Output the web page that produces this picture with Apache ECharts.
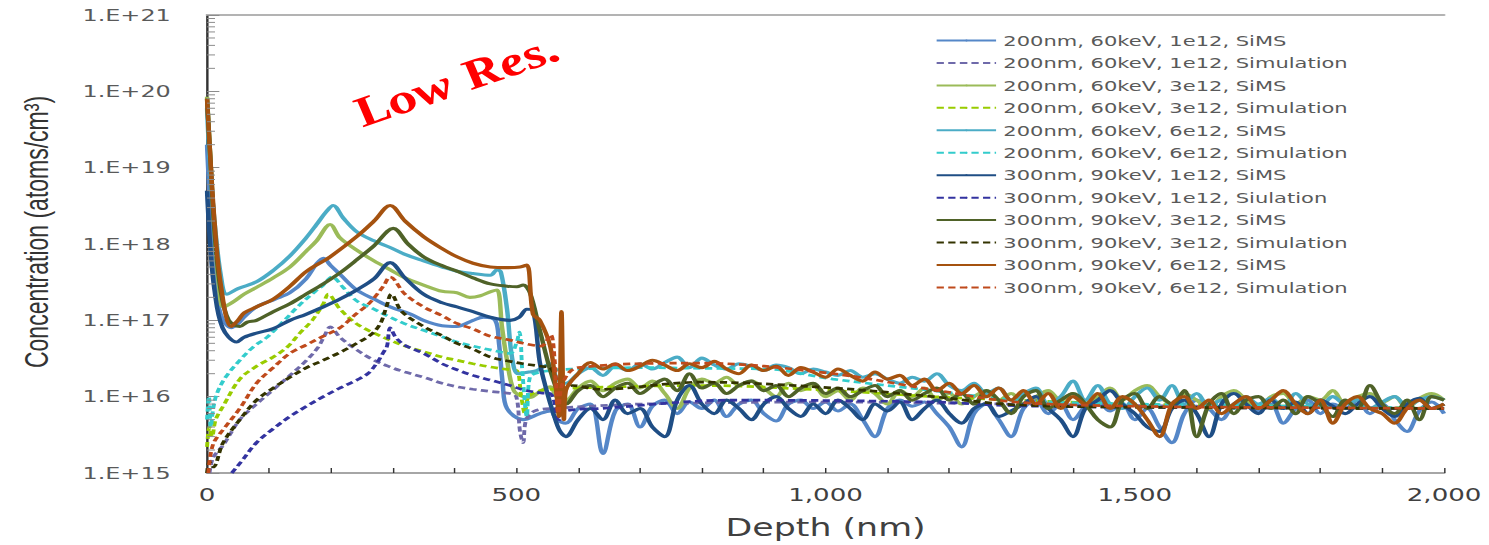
<!DOCTYPE html>
<html>
<head>
<meta charset="utf-8">
<script src="https://cdn.jsdelivr.net/npm/echarts@6.0.0/dist/echarts.min.js"></script>
<style>
  html, body { margin: 0; padding: 0; background: #fff; overflow: hidden; }
  /* the reference picture is stretched sideways, so the chart is drawn narrow and stretched back */
  #chart { width: 1027px; height: 545px; transform: scaleX(1.4499); transform-origin: 0 0; }
</style>
</head>
<body>
<div id="chart"></div>
<script>
// depth (nm) / concentration (atoms/cm3)
// near-surface + peak part of each profile: [depth, value]
const sims200_1e12 = [[0, 2e19], [5, 3e18], [12, 4e17], [22, 1.2e17], [39, 8e16], [50, 9e16], [60, 1.1e17], [80, 1.5e17], [110, 1.9e17], [134, 2.3e17], [160, 3.5e17], [177, 5.5e17], [188, 6.5e17], [200, 5.2e17], [215, 4e17], [242, 2.5e17], [270, 1.9e17], [296, 1.5e17], [330, 1.2e17], [350, 1e17], [380, 8.5e16], [404, 8.3e16], [430, 1e17], [447, 1.1e17], [466, 1e17], [472, 5e16], [478, 1.5e16], [485, 7e15], [511, 5e15], [538, 6e15], [555, 6.5e15], [565, 5e15]];
const sims200_3e12 = [[0, 8.5e19], [5, 1.5e19], [12, 1.5e18], [20, 2.5e17], [26, 1.5e17], [40, 1.7e17], [60, 2.2e17], [80, 2.7e17], [107, 3.6e17], [134, 5e17], [160, 8e17], [177, 1.1e18], [199, 1.8e18], [215, 1.2e18], [242, 8.3e17], [270, 6e17], [296, 4.6e17], [320, 3.6e17], [350, 2.9e17], [380, 2.4e17], [404, 2.3e17], [425, 2e17], [442, 2.1e17], [460, 2.4e17], [469, 2.5e17], [477, 8e16], [485, 3e16], [496, 1.2e16], [511, 1e16], [522, 9.8e15], [540, 1.2e16], [555, 1.35e16], [565, 1e16]];
const sims200_6e12 = [[0, 6e19], [5, 1e19], [12, 2e18], [22, 4e17], [32, 2.2e17], [50, 2.6e17], [80, 3.2e17], [107, 4.5e17], [134, 7e17], [160, 1.2e18], [177, 1.8e18], [192, 2.6e18], [204, 3.2e18], [220, 2.2e18], [242, 1.45e18], [270, 1.1e18], [296, 9e17], [320, 7.3e17], [350, 6e17], [380, 5e17], [404, 4.4e17], [430, 4.1e17], [458, 3.9e17], [469, 4.6e17], [475, 4.3e17], [485, 1.4e17], [493, 3.3e16], [503, 2e16], [520, 2.1e16], [533, 2.2e16], [555, 2.7e16], [566, 1.7e16]];
const sims300_1e12 = [[0, 5e18], [5, 1e18], [12, 2.5e17], [25, 8e16], [48, 5.2e16], [60, 6e16], [80, 6.8e16], [107, 7.8e16], [134, 1e17], [160, 1.2e17], [188, 1.5e17], [215, 1.9e17], [242, 2.5e17], [270, 3.5e17], [296, 5.7e17], [320, 3.6e17], [350, 2.2e17], [380, 1.7e17], [404, 1.5e17], [430, 1.3e17], [458, 1.1e17], [490, 1e17], [505, 1.1e17], [517, 1.4e17], [527, 1.35e17], [538, 2.8e16], [549, 1.2e16], [560, 6e15], [570, 3.6e15]];
const sims300_3e12 = [[0, 8e19], [5, 1.5e19], [12, 1.5e18], [22, 2.5e17], [35, 1e17], [53, 8.3e16], [65, 9.5e16], [80, 1e17], [107, 1.3e17], [134, 1.65e17], [160, 2.2e17], [188, 3e17], [215, 4.2e17], [242, 6.2e17], [270, 9.5e17], [301, 1.6e18], [325, 1e18], [350, 6.8e17], [380, 5.2e17], [404, 4.4e17], [430, 3.6e17], [458, 3e17], [485, 2.8e17], [501, 2.75e17], [511, 2.9e17], [522, 2.3e17], [538, 7.4e16], [555, 2.2e16], [570, 1e16]];
const sims300_6e12 = [[0, 8e19], [5, 1.5e19], [12, 2e18], [22, 3e17], [39, 8.3e16], [50, 1e17], [60, 1.25e17], [80, 1.5e17], [107, 1.9e17], [134, 2.8e17], [161, 4.4e17], [199, 6.8e17], [242, 1.25e18], [270, 2e18], [296, 3.2e18], [320, 2e18], [350, 1.25e18], [380, 8.7e17], [404, 6.8e17], [430, 5.6e17], [458, 5e17], [485, 4.9e17], [506, 5e17], [517, 5.3e17], [527, 1.2e17], [538, 1e17], [555, 4.5e16], [564, 1.3e16], [569, 5.5e15], [573, 1.3e17], [577, 5e15]];

// noisy SIMS floor beyond the interface, values in units of 1e15
const tailDepth = [580,600,620,640,660,680,700,720,740,760,780,800,820,840,860,880,900,920,940,960,980,1000,1020,1040,1060,1080,1100,1120,1140,1160,1180,1200,1220,1240,1260,1280,1300,1320,1340,1360,1380,1400,1420,1440,1460,1480,1500,1520,1540,1560,1580,1600,1620,1640,1660,1680,1700,1720,1740,1760,1780,1800,1820,1840,1860,1880,1900,1920,1940,1960,1980,2000];
const tail200_1e12 = [4.5,7,8,1.8,6.5,8,4,7.5,9,6, 8.5,7,9,5.5,8,9,6,4.8,8,9, 7,8.5,6.5,8,5,3,7,9,7.5,8.5, 6,4,2.2,6,8,5,3,7,9,6, 8,5,7.5,9,6.5,8,5,7,4,2.5, 6,9,7,5,8,9.5,6.5,8,4.5,7, 9,6,8,7,9,6,8,5,3.5,6.5, 8.5,6];
const tail200_3e12 = [9,13,16,12,15,17,13,16,11,7, 13,17,15,18,14,16,13,10,15,12, 14,10,12,9,13,11,8,12,10,13, 9,11,8,10,12,9,11,8,10,12, 9,11,8,10,13,9,12,14,10,8, 11,9,7,10,12,9,7,10,11,8, 10,9,12,8,10,11,8.5,10,7,9.5, 11,9];
const tail200_6e12 = [15,20,24,19,25,22,27,23,28,33, 24,32,26,23,27,25,22,26,24,20, 23,21,19,22,18,20,17,15,18,16, 20,14,12,15,11,13,9,11,13,8, 10,16,9,14,8,7,10,13,9,14, 8,11,7.5,9,7,10,8,9.5,7,11, 8,7.5,10,8,9,7,8.5,10,7.5,9, 10,9];
const tail300_1e12 = [3,5,7,5,9,6,7,4,3,9, 14,8,6,9,7,5,8,10,7,5.5, 8,6,9,7,5,8,6.5,8.5,5,7, 9,6,4.5,7,8,5.5,6.5,8,10,7, 5,3,7,9,12,8,6,4,3.5,7, 9,6,3,8,11,8,6,9,7,8.5, 6,9,7.5,6,8,10,7,5.5,8,9.5, 7,8];
const tail300_3e12 = [8,12,14,10,13,15,11,14,17,12, 20,13,15,11,14,16,12,14,10,13, 15,11,13,10,12,14,10,12,9,11, 13,9,11,8,12,9,6,10,12,7, 9,11,8,5,4,9,11,7,10,8, 12,3,8,11,6,9,10,7,9,6, 10,8,5.5,9,7,14,8,6,9,5, 10,9];
const tail300_6e12 = [12,20,28,23,27,22,25,30,26,22, 27,24,29,23,20,26,22,25,19,24, 21,18,23,19,16,21,17,19,14,17, 12,15,11,14,10,13,9,12,8,11, 7,10,8,11,7,10,8,5,3,8, 10,7,9,6,8,10,7,9,12,8, 6,9,4.5,8,10,7,6,4.5,7,9, 7,8];

// simulated profiles: [depth, value]
const sim200_1e12 = [[4, 1e15], [10, 1.6e15], [26, 2.3e15], [53, 5e15], [80, 8e15], [107, 1.23e16], [134, 1.9e16], [161, 3e16], [180, 4.5e16], [190, 6.3e16], [199, 8.2e16], [215, 6e16], [242, 4.1e16], [270, 3e16], [296, 2.45e16], [320, 2.1e16], [350, 1.8e16], [380, 1.5e16], [404, 1.35e16], [430, 1.25e16], [458, 1.17e16], [490, 1.1e16], [500, 1e16], [506, 3.5e15], [511, 2.5e15], [516, 5e15], [530, 6.5e15], [560, 7e15], [700, 8e15], [1000, 8.5e15], [1300, 8e15], [1600, 7.5e15], [2000, 7e15]];
const sim200_3e12 = [[0, 2.2e15], [4, 4e15], [8, 3e15], [14, 5e15], [26, 7.5e15], [53, 1.7e16], [80, 2.5e16], [107, 3.3e16], [130, 4.5e16], [150, 6.8e16], [170, 1e17], [188, 1.65e17], [196, 2.2e17], [215, 1.4e17], [242, 9e16], [270, 6.8e16], [296, 5.5e16], [320, 4.6e16], [350, 3.9e16], [380, 3.3e16], [404, 3e16], [430, 2.7e16], [458, 2.45e16], [490, 2.25e16], [501, 2.2e16], [508, 1e16], [514, 6e15], [520, 1e16], [540, 1.2e16], [600, 1.3e16], [800, 1.4e16], [1012, 1.2e16], [1174, 1e16], [1310, 9e15], [1500, 8e15], [1750, 7.5e15], [2000, 7e15]];
const sim200_6e12 = [[0, 5e15], [3, 1e16], [6, 4e15], [10, 7e15], [16, 1.1e16], [30, 1.8e16], [53, 3e16], [75, 4.5e16], [97, 6e16], [125, 1e17], [150, 1.6e17], [175, 2.4e17], [188, 2.9e17], [202, 3.7e17], [220, 2.7e17], [242, 1.8e17], [270, 1.4e17], [296, 1.1e17], [320, 9e16], [350, 7.4e16], [380, 6.1e16], [404, 5.2e16], [430, 4.6e16], [458, 4.1e16], [490, 3.7e16], [500, 5e16], [505, 7e16], [510, 2e16], [517, 5.5e15], [522, 1.8e16], [555, 2.2e16], [600, 2.3e16], [700, 2.4e16], [800, 2.35e16], [905, 2.3e16], [1012, 1.7e16], [1174, 1.2e16], [1310, 9e15], [1500, 8e15], [1750, 7.5e15], [2000, 7e15]];
const sim300_1e12 = [[40, 1e15], [55, 1.4e15], [80, 2.5e15], [107, 3.8e15], [134, 5.5e15], [161, 7.5e15], [188, 1e16], [215, 1.3e16], [242, 1.65e16], [260, 2e16], [275, 2.8e16], [285, 3.8e16], [291, 4.6e16], [296, 8e16], [305, 6e16], [320, 4.7e16], [350, 3.7e16], [380, 2.7e16], [404, 2.25e16], [430, 1.9e16], [458, 1.65e16], [490, 1.4e16], [511, 1.23e16], [540, 1.12e16], [555, 1.1e16], [570, 5e15], [580, 6.5e15], [635, 7e15], [850, 9e15], [1174, 8.5e15], [1310, 7.6e15], [1600, 7.2e15], [2000, 7e15]];
const sim300_3e12 = [[0, 1e15], [4, 1.4e15], [10, 1.2e15], [26, 2.5e15], [53, 5e15], [80, 9e15], [107, 1.3e16], [134, 1.8e16], [161, 2.4e16], [188, 3e16], [215, 3.8e16], [242, 5e16], [265, 6.5e16], [280, 9e16], [290, 1.5e17], [298, 2.2e17], [315, 1.3e17], [350, 8.3e16], [380, 6.3e16], [404, 5e16], [430, 4.2e16], [458, 3.3e16], [490, 2.9e16], [511, 2.7e16], [540, 2.5e16], [555, 2.4e16], [575, 1.2e16], [590, 1.4e16], [635, 1.25e16], [797, 1.55e16], [1012, 1.3e16], [1174, 1e16], [1310, 7.8e15], [1600, 7.2e15], [2000, 7e15]];
const sim300_6e12 = [[2, 1e15], [6, 1.8e15], [12, 2.6e15], [26, 3.7e15], [53, 7e15], [80, 1.5e16], [107, 2.4e16], [134, 3.7e16], [161, 4.8e16], [188, 6.2e16], [215, 8e16], [242, 1.23e17], [260, 1.6e17], [275, 2.2e17], [285, 2.8e17], [296, 3.7e17], [320, 2.2e17], [350, 1.5e17], [380, 1.15e17], [404, 9.1e16], [430, 7.7e16], [458, 6.2e16], [490, 5.5e16], [511, 5e16], [540, 4.6e16], [555, 6.5e16], [562, 3e16], [568, 6e15], [575, 1.5e16], [600, 2.4e16], [797, 2.75e16], [1012, 2e16], [1174, 1.23e16], [1310, 8.5e15], [1500, 7.5e15], [1750, 7.2e15], [2000, 7e15]];

const seriesNames = [
  '200nm, 60keV, 1e12, SiMS', '200nm, 60keV, 1e12, Simulation',
  '200nm, 60keV, 3e12, SiMS', '200nm, 60keV, 3e12, Simulation',
  '200nm, 60keV, 6e12, SiMS', '200nm, 60keV, 6e12, Simulation',
  '300nm, 90keV, 1e12, SiMS', '300nm, 90keV, 1e12, Siulation',
  '300nm, 90keV, 3e12, SiMS', '300nm, 90keV, 3e12, Simulation',
  '300nm, 90keV, 6e12, SiMS', '300nm, 90keV, 6e12, Simulation'
];
const seriesColors = ['#5587c8', '#6f6aaa', '#9bbb59', '#99cc00', '#4bacc6', '#33cccc',
                      '#1f4e85', '#3333a0', '#4f6228', '#333300', '#a5520f', '#bf4a1c'];

const yTickExponents = [15, 16, 17, 18, 19, 20, 21];
const minorMultipliers = [2, 3, 4, 5, 6, 7, 8, 9];

function withTail(head, tail) {
  return head.concat(tail.map((v, i) => [tailDepth[i], v * 1e15]));
}

const profiles = [
  withTail(sims200_1e12, tail200_1e12), sim200_1e12,
  withTail(sims200_3e12, tail200_3e12), sim200_3e12,
  withTail(sims200_6e12, tail200_6e12), sim200_6e12,
  withTail(sims300_1e12, tail300_1e12), sim300_1e12,
  withTail(sims300_3e12, tail300_3e12), sim300_3e12,
  withTail(sims300_6e12, tail300_6e12), sim300_6e12
];

const minorTicks = [];
yTickExponents.slice(0, -1).forEach(e => {
  minorMultipliers.forEach(m => minorTicks.push([0, m * Math.pow(10, e)]));
});

const series = profiles.map((data, i) => {
  const dashed = i % 2 === 1;
  return {
    name: seriesNames[i],
    type: 'line',
    data: data,
    symbol: 'none',
    smooth: 0.35,
    lineStyle: { color: seriesColors[i], width: dashed ? 2.7 : 3.1, type: dashed ? [5, 3] : 'solid' },
    itemStyle: { color: seriesColors[i] }
  };
});

series.push({
  name: 'minor ticks',
  type: 'custom',
  silent: true,
  clip: false,
  z: 10,
  data: minorTicks,
  renderItem: function (params, api) {
    const p = api.coord([0, api.value(1)]);
    return {
      type: 'line',
      shape: { x1: p[0], y1: p[1], x2: p[0] + 5.5, y2: p[1] },
      style: { stroke: '#8c8c8c', lineWidth: 1 }
    };
  }
});

const myChart = echarts.init(document.getElementById('chart'), null, { renderer: 'svg' });

const option = {
  animation: false,
  backgroundColor: '#fff',
  grid: { left: 142.8, right: 31, top: 15, bottom: 72 },
  legend: {
    data: seriesNames,
    orient: 'vertical',
    left: 640,
    top: 28,
    itemWidth: 41,
    itemHeight: 2,
    itemGap: 7.45,
    textStyle: { fontFamily: 'DejaVu Sans', fontSize: 14.5, color: '#595959' }
  },
  xAxis: [
    {
      type: 'value',
      min: 0,
      max: 2000,
      interval: 100,
      name: 'Depth (nm)',
      nameLocation: 'middle',
      nameGap: 43,
      nameTextStyle: { fontFamily: 'DejaVu Sans', fontSize: 24, color: '#404040' },
      axisLine: { lineStyle: { color: '#a6a6a6', width: 2 } },
      axisTick: { inside: true, length: 5, lineStyle: { color: '#333', width: 1 } },
      axisLabel: {
        margin: 13,
        fontFamily: 'DejaVu Sans',
        fontSize: 18,
        color: '#404040',
        formatter: v => (v % 500 === 0 ? v.toLocaleString('en-US') : '')
      },
      splitLine: { show: false }
    },
    {
      type: 'value',
      position: 'top',
      min: 0,
      max: 2000,
      axisLine: { lineStyle: { color: '#b3b3b3', width: 2 } },
      axisTick: { show: false },
      axisLabel: { show: false },
      splitLine: { show: false }
    }
  ],
  yAxis: [
    {
      type: 'log',
      logBase: 10,
      min: 1e15,
      max: 1e21,
      name: 'Concentration (atoms/cm³)',
      nameLocation: 'middle',
      nameGap: 106,
      nameTextStyle: { fontFamily: 'Liberation Sans', fontSize: 23, color: '#333', padding: [0, 0, 0, 24] },
      axisLine: { lineStyle: { color: '#8c8c8c', width: 1.5 } },
      axisTick: { inside: true, length: 8.5, lineStyle: { color: '#8c8c8c', width: 1 } },
      axisLabel: {
        margin: 25,
        fontFamily: 'DejaVu Sans',
        fontSize: 16.5,
        color: '#595959',
        formatter: v => '1.E+' + Math.round(Math.log10(v))
      },
      splitLine: { show: false }
    },
    {
      type: 'log',
      logBase: 10,
      position: 'right',
      min: 1e15,
      max: 1e21,
      axisLine: { show: true, lineStyle: { color: '#333', width: 1.5 } },
      axisTick: { show: false },
      axisLabel: { show: false },
      splitLine: { show: false }
    }
  ],
  graphic: [
    {
      type: 'text',
      x: 314,
      y: 80,
      rotation: 26.4 * Math.PI / 180,
      style: {
        text: 'Low Res.',
        font: 'italic bold 41px "Liberation Serif"',
        fill: '#ff0000',
        align: 'center',
        verticalAlign: 'middle'
      }
    }
  ],
  series: series
};

myChart.setOption(option);
</script>
</body>
</html>
